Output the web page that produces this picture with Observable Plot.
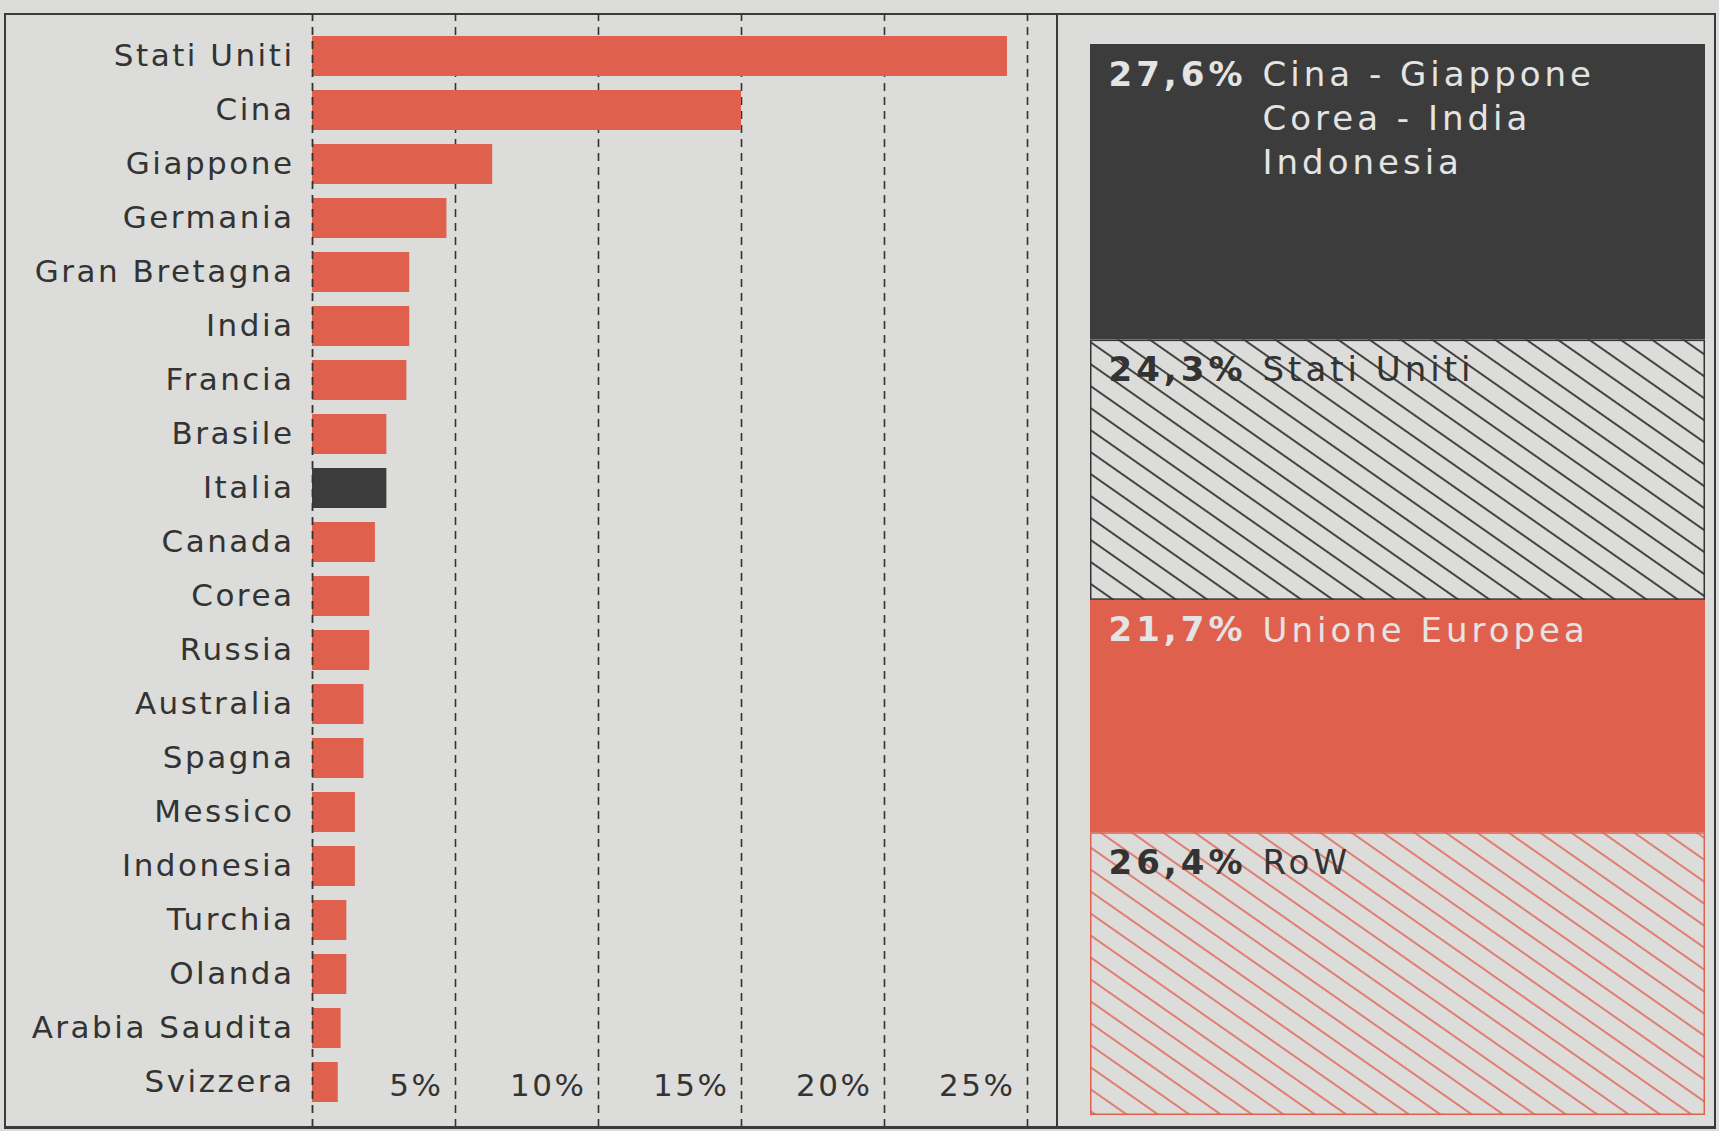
<!DOCTYPE html>
<html>
<head>
<meta charset="utf-8">
<script src="https://cdn.jsdelivr.net/npm/d3@7"></script>
<script src="https://cdn.jsdelivr.net/npm/@observablehq/plot@0.6"></script>
<style>
  html, body { margin: 0; padding: 0; background: #dcdcda; overflow: hidden; }
  #wrap { position: relative; width: 1719px; height: 1131px; overflow: hidden; background: #dcdcda; }
  #left { position: absolute; left: 0; top: 0; width: 1057px; height: 1131px; }
  #right { position: absolute; left: 1057px; top: 0; width: 662px; height: 1131px; }
  #left svg text { letter-spacing: 2.5px; }
  #right svg text { letter-spacing: 4px; }
  .frame { position: absolute; left: 4px; top: 13px; width: 1712px; height: 1116px; border: 2px solid #3a3a3a; border-bottom-width: 3px; box-sizing: border-box; pointer-events: none; }
  .sep { position: absolute; left: 1056px; top: 13px; width: 2px; height: 1116px; background: #3a3a3a; pointer-events: none; }
</style>
</head>
<body>
<div id="wrap">
  <div id="left"></div>
  <div id="right"></div>
  <div class="frame"></div>
  <div class="sep"></div>
</div>
<script>
// ---- Data: share of world GDP (%) by country ----
const countries = ["Stati Uniti", "Cina", "Giappone", "Germania", "Gran Bretagna", "India", "Francia",
  "Brasile", "Italia", "Canada", "Corea", "Russia", "Australia", "Spagna", "Messico", "Indonesia",
  "Turchia", "Olanda", "Arabia Saudita", "Svizzera"];
const shares = [24.3, 15.0, 6.3, 4.7, 3.4, 3.4, 3.3, 2.6, 2.6, 2.2, 2.0, 2.0, 1.8, 1.8, 1.5, 1.5, 1.2, 1.2, 1.0, 0.9];
const highlight = "Italia";

// ---- Axis ticks ----
const tickValues = [5, 10, 15, 20, 25];
const tickLabels = ["5%", "10%", "15%", "20%", "25%"];

// ---- Data: regional blocks (%) ----
const groups = ["Cina - Giappone\nCorea - India\nIndonesia", "Stati Uniti", "Unione Europea", "RoW"];
const groupShares = [27.6, 24.3, 21.7, 26.4];

const PAPER = "#dcdcda";
const RED = "#e0604e";
const DARK = "#3c3c3c";
const INK = "#333333";

// ---------------- Left: horizontal bar chart ----------------
const rows = countries.map((c, i) => ({country: c, share: shares[i]}));

const left = Plot.plot({
  width: 1057,
  height: 1131,
  marginLeft: 312,
  marginRight: 30,
  marginTop: 25,
  marginBottom: 18,
  style: {background: "transparent", fontFamily: "DejaVu Sans", fontSize: "31px", color: INK, overflow: "visible"},
  x: {domain: [0, 25], axis: null},
  y: {domain: countries, paddingInner: 0.265, paddingOuter: 0.1325, label: null, tickSize: 0, tickPadding: 18},
  color: {type: "identity"},
  marks: [
    Plot.ruleX(tickValues, {stroke: INK, strokeWidth: 1.6, strokeDasharray: "8,6", insetTop: -12, insetBottom: -15}),
    Plot.barX(rows, {x: "share", y: "country", fill: d => d.country === highlight ? DARK : RED}),
    Plot.ruleX([0], {stroke: INK, strokeWidth: 1.8, strokeDasharray: "8,6", insetTop: -12, insetBottom: -15}),
    Plot.text(tickValues, {
      x: d => d,
      y: () => countries[countries.length - 1],
      text: (d, i) => tickLabels[i],
      textAnchor: "end",
      dx: -12,
      dy: 4,
      fontSize: 31,
      fill: INK
    })
  ]
});
document.getElementById("left").appendChild(left);

// ---------------- Right: 100% stacked block ----------------
const blocks = groups.map((g, i) => ({group: g, share: groupShares[i], pct: groupShares[i].toFixed(1).replace(".", ",") + "%"}));
let acc = 0;
blocks.forEach(d => { d.y1 = acc; acc += d.share; d.y2 = acc; });

const lightText = (d, i) => i === 0 || i === 2;
const darkText = (d, i) => !(i === 0 || i === 2);

const right = Plot.plot({
  width: 662,
  height: 1131,
  marginLeft: 33,
  marginRight: 14,
  marginTop: 44,
  marginBottom: 16,
  style: {background: "transparent", fontFamily: "DejaVu Sans", fontSize: "34px", color: INK, overflow: "visible"},
  x: {axis: null, padding: 0, domain: ["all"]},
  y: {axis: null, domain: [0, 100], reverse: true},
  color: {domain: groups, range: [DARK, "url(#hatchK)", RED, "url(#hatchR)"]},
  marks: [
    Plot.barY(blocks, {x: () => "all", y1: "y1", y2: "y2", fill: "group"}),
    Plot.barY(blocks, {filter: (d, i) => i === 1, x: () => "all", y1: "y1", y2: "y2", fill: "none", stroke: INK, strokeWidth: 1.5, inset: 0.75}),
    Plot.barY(blocks, {filter: (d, i) => i === 3, x: () => "all", y1: "y1", y2: "y2", fill: "none", stroke: RED, strokeWidth: 1.5, inset: 0.75}),
    Plot.text(blocks, {filter: lightText, y: "y1", text: "pct", frameAnchor: "left", textAnchor: "start", lineAnchor: "top", dx: 18, dy: 17, fontWeight: "bold", fontSize: 34, fill: "#e4e4e4"}),
    Plot.text(blocks, {filter: darkText, y: "y1", text: "pct", frameAnchor: "left", textAnchor: "start", lineAnchor: "top", dx: 18, dy: 17, fontWeight: "bold", fontSize: 34, fill: INK}),
    Plot.text(blocks, {filter: lightText, y: "y1", text: "group", frameAnchor: "left", textAnchor: "start", lineAnchor: "top", lineHeight: 1.3, dx: 172, dy: 10, fontSize: 34, fill: "#e4e4e4"}),
    Plot.text(blocks, {filter: darkText, y: "y1", text: "group", frameAnchor: "left", textAnchor: "start", lineAnchor: "top", lineHeight: 1.3, dx: 172, dy: 10, fontSize: 34, fill: INK})
  ]
});

d3.select(right).insert("defs", ":first-child").html(`
  <pattern id="hatchK" patternUnits="userSpaceOnUse" width="18" height="18" patternTransform="rotate(35)">
    <rect width="18" height="18" fill="${PAPER}"></rect>
    <line x1="-1" y1="9" x2="19" y2="9" stroke="${INK}" stroke-width="1.8"></line>
  </pattern>
  <pattern id="hatchR" patternUnits="userSpaceOnUse" width="18" height="18" patternTransform="rotate(35)">
    <rect width="18" height="18" fill="${PAPER}"></rect>
    <line x1="-1" y1="9" x2="19" y2="9" stroke="${RED}" stroke-width="1.5"></line>
  </pattern>
`);
document.getElementById("right").appendChild(right);
</script>
</body>
</html>
